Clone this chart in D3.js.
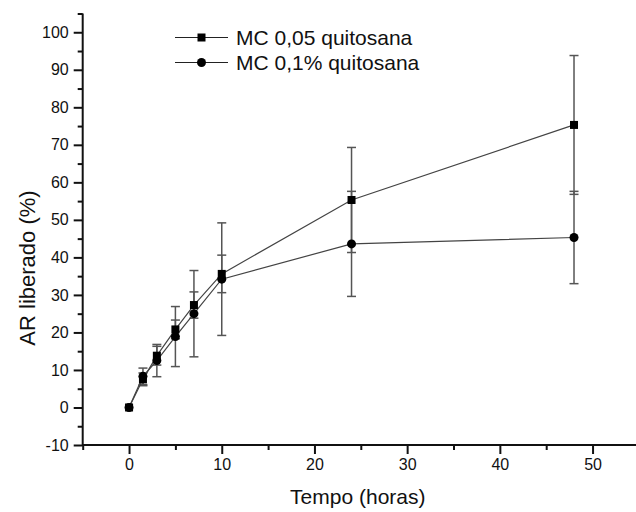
<!DOCTYPE html>
<html><head><meta charset="utf-8">
<script src="https://cdn.jsdelivr.net/npm/d3@7"></script>
<style>body{margin:0;background:#fff} svg{display:block} text{font-family:"Liberation Sans",Arial,sans-serif;fill:#111}</style>
</head><body><svg id="c" width="636" height="512"></svg>
<script>
const hours = [0, 1.5, 3, 5, 7, 10, 24, 48];
const series1Name = "MC 0,05 quitosana";
const series1 = [0, 7.5, 13.8, 20.8, 27.3, 35.6, 55.3, 75.3];
const series1Err = [0, 1.7, 2.5, 2.5, 3.5, 5, 14, 18.5];
const series2Name = "MC 0,1% quitosana";
const series2 = [0, 8.3, 12.5, 18.9, 25.0, 34.2, 43.6, 45.3];
const series2Err = [0, 2.2, 4.3, 8, 11.5, 15, 14, 12.3];
const xTicks = [0, 10, 20, 30, 40, 50];
const xMinorTicks = [-5, 5, 15, 25, 35, 45, 55];
const yTicks = [-10, 0, 10, 20, 30, 40, 50, 60, 70, 80, 90, 100];
const yMinorTicks = [-5, 5, 15, 25, 35, 45, 55, 65, 75, 85, 95, 105];
const xTitle = "Tempo (horas)";
const yTitle = "AR liberado (%)";

const svg = d3.select("#c");
const x = d3.scaleLinear().domain([-5, 55]).range([82.7, 638.9]);
const y = d3.scaleLinear().domain([-10, 105]).range([445, 13.5]);

const axisColor = "#111";
const fmt = d => String(d);
const gx = svg.append("g").attr("transform", `translate(0,${y(-10)})`);
gx.call(d3.axisBottom(x).tickValues(xTicks).tickSize(9).tickPadding(5).tickFormat(fmt));
const gxm = svg.append("g").attr("transform", `translate(0,${y(-10)})`);
gxm.call(d3.axisBottom(x).tickValues(xMinorTicks).tickSize(5).tickFormat(""));
const gy = svg.append("g").attr("transform", `translate(${x(-5)},0)`);
gy.call(d3.axisLeft(y).tickValues(yTicks).tickSize(9).tickPadding(5).tickFormat(fmt));
const gym = svg.append("g").attr("transform", `translate(${x(-5)},0)`);
gym.call(d3.axisLeft(y).tickValues(yMinorTicks).tickSize(5).tickFormat(""));
[gx, gxm, gy, gym].forEach(g => {
  g.select(".domain").remove();
  g.selectAll(".tick line").attr("stroke", axisColor).attr("stroke-width", 2);
  g.selectAll("text").attr("font-size", 16).attr("fill", "#111").attr("font-family", "Liberation Sans, Arial, sans-serif");
});
svg.append("line").attr("x1", x(-5)).attr("x2", x(55)).attr("y1", y(-10)).attr("y2", y(-10))
  .attr("stroke", axisColor).attr("stroke-width", 2);
svg.append("line").attr("x1", x(-5)).attr("x2", x(-5)).attr("y1", y(-10) + 1).attr("y2", y(105))
  .attr("stroke", axisColor).attr("stroke-width", 2);

svg.append("text").attr("x", (x(-5) + x(55)) / 2 - 3).attr("y", 504).attr("text-anchor", "middle")
  .attr("font-size", 21).text(xTitle);
svg.append("text").attr("transform", `translate(35,${268}) rotate(-90)`).attr("text-anchor", "middle")
  .attr("font-size", 22).text(yTitle);

const data1 = hours.map((h, i) => ({h, v: series1[i], e: series1Err[i]}));
const data2 = hours.map((h, i) => ({h, v: series2[i], e: series2Err[i]}));

function errorBars(data) {
  const g = svg.append("g").attr("stroke", "#555").attr("stroke-width", 1.5);
  data.filter(d => d.e > 0).forEach(d => {
    const cx = x(d.h);
    g.append("line").attr("x1", cx).attr("x2", cx).attr("y1", y(d.v - d.e)).attr("y2", y(d.v + d.e));
    g.append("line").attr("x1", cx - 4.5).attr("x2", cx + 4.5).attr("y1", y(d.v - d.e)).attr("y2", y(d.v - d.e));
    g.append("line").attr("x1", cx - 4.5).attr("x2", cx + 4.5).attr("y1", y(d.v + d.e)).attr("y2", y(d.v + d.e));
  });
}
errorBars(data1);
errorBars(data2);

const line = d3.line().x(d => x(d.h)).y(d => y(d.v));
[data1, data2].forEach(data => {
  svg.append("path").datum(data).attr("d", line).attr("fill", "none")
    .attr("stroke", "#444").attr("stroke-width", 1.2);
});

const sq = 8;
svg.append("g").selectAll("rect").data(data1).join("rect")
  .attr("x", d => x(d.h) - sq / 2).attr("y", d => y(d.v) - sq / 2)
  .attr("width", sq).attr("height", sq).attr("fill", "#000");
svg.append("g").selectAll("circle").data(data2).join("circle")
  .attr("cx", d => x(d.h)).attr("cy", d => y(d.v)).attr("r", 4.5).attr("fill", "#000");

const leg = [{name: series1Name, shape: "sq", y: 37.5}, {name: series2Name, shape: "ci", y: 62.5}];
const lg = svg.append("g");
leg.forEach(l => {
  lg.append("line").attr("x1", 175).attr("x2", 228).attr("y1", l.y).attr("y2", l.y)
    .attr("stroke", "#222").attr("stroke-width", 1.2);
  if (l.shape === "sq") {
    lg.append("rect").attr("x", 201.5 - sq / 2).attr("y", l.y - sq / 2).attr("width", sq).attr("height", sq).attr("fill", "#000");
  } else {
    lg.append("circle").attr("cx", 201.5).attr("cy", l.y).attr("r", 4.5).attr("fill", "#000");
  }
  lg.append("text").attr("x", 236).attr("y", l.y + 7.5).attr("font-size", 21).text(l.name);
});
</script></body></html>
